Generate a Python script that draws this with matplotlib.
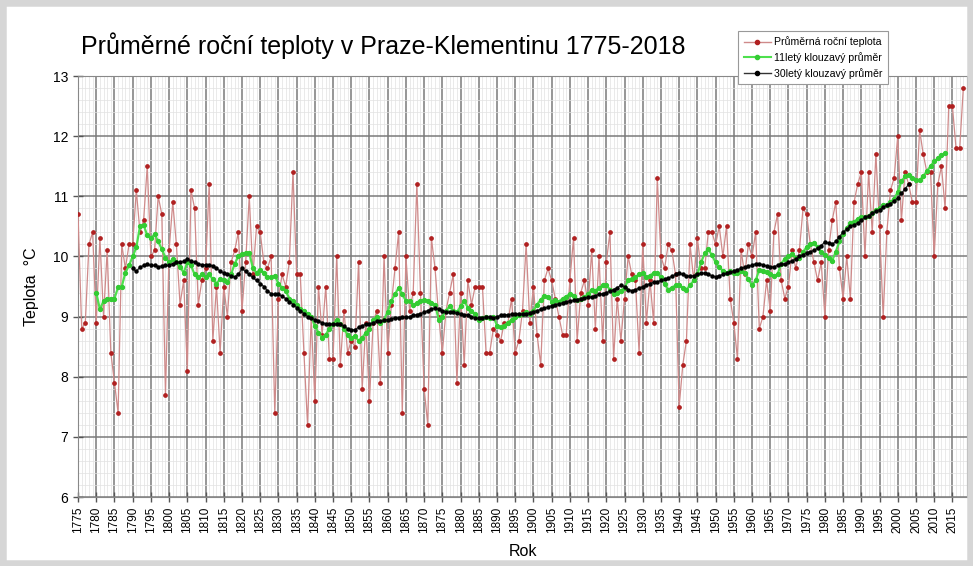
import numpy as np
import matplotlib
matplotlib.use("Agg")
import matplotlib.pyplot as plt
from matplotlib.lines import Line2D
from matplotlib.patches import Rectangle

plt.rcParams['font.family'] = ['Liberation Sans', 'DejaVu Sans']

# roční průměry 1775-2018
years = np.arange(1775, 2019)
temps = [
    10.7, 8.8, 8.9, 10.2, 10.4,                                   # 1775-1779
    8.9, 10.3, 9.0, 10.1, 8.4, 7.9, 7.4, 10.2, 9.8, 10.2,         # 1780s
    10.2, 11.1, 10.4, 10.6, 11.5, 10.0, 10.1, 11.0, 10.7, 7.7,    # 1790s
    10.1, 10.9, 10.2, 9.2, 9.6, 8.1, 11.1, 10.8, 9.2, 9.6,        # 1800s
    9.8, 11.2, 8.6, 9.5, 8.4, 9.5, 9.0, 9.9, 10.1, 10.4,          # 1810s
    9.1, 9.9, 11.0, 9.7, 10.5, 10.4, 9.9, 9.8, 10.0, 7.4,         # 1820s
    9.3, 9.7, 9.5, 9.9, 11.4, 9.7, 9.7, 8.4, 7.2, 9.0,            # 1830s
    7.6, 9.5, 8.7, 9.5, 8.3, 8.3, 10.0, 8.2, 9.1, 8.4,            # 1840s
    8.6, 8.5, 9.9, 7.8, 8.9, 7.6, 8.9, 9.1, 7.9, 10.0,            # 1850s
    8.4, 9.2, 9.8, 10.4, 7.4, 10.0, 9.1, 9.4, 11.2, 9.4,          # 1860s
    7.8, 7.2, 10.3, 9.8, 9.0, 8.4, 9.1, 9.4, 9.7, 7.9,            # 1870s
    9.4, 8.2, 9.6, 9.2, 9.5, 9.5, 9.5, 8.4, 8.4, 8.8,             # 1880s
    8.7, 8.6, 8.9, 8.9, 9.3, 8.4, 8.6, 9.1, 10.2, 8.9,            # 1890s
    9.5, 8.7, 8.2, 9.6, 9.8, 9.6, 9.3, 9.0, 8.7, 8.7,             # 1900s
    9.6, 10.3, 8.6, 9.4, 9.6, 9.2, 10.1, 8.8, 10.0, 8.6,          # 1910s
    9.9, 10.4, 8.3, 9.3, 8.6, 9.3, 10.0, 9.7, 9.6, 8.4,           # 1920s
    10.2, 8.9, 9.6, 8.9, 11.3, 10.0, 9.8, 10.2, 10.1, 9.7,        # 1930s
    7.5, 8.2, 8.6, 10.2, 9.6, 10.3, 9.8, 9.8, 10.4, 10.4,         # 1940s
    10.2, 10.5, 10.0, 10.5, 9.3, 8.9, 8.3, 10.1, 9.7, 10.2,       # 1950s
    10.0, 10.4, 8.8, 9.0, 9.6, 9.1, 10.4, 10.7, 9.6, 9.3,         # 1960s
    9.5, 10.1, 9.8, 10.1, 10.8, 10.7, 10.2, 9.9, 9.6, 9.9,        # 1970s
    9.0, 10.1, 10.6, 10.9, 9.8, 9.3, 10.0, 9.3, 10.9, 11.2,       # 1980s
    11.4, 10.0, 11.4, 10.4, 11.7, 10.5, 9.0, 10.4, 11.1, 11.3,    # 1990s
    12.0, 10.6, 11.4, 11.2, 10.9, 10.9, 12.1, 11.7, 11.4, 11.4,   # 2000s
    10.0, 11.2, 11.5, 10.8, 12.5, 12.5, 11.8, 11.8, 12.8,         # 2010-2018
]

# 11letý klouzavý průměr 1780-2013
years11 = np.arange(1780, 2014)
avg11 = [
    9.40, 9.12, 9.26, 9.30, 9.30, 9.30, 9.49, 9.50, 9.73, 9.85,
    10.00, 10.15, 10.50, 10.52, 10.35, 10.30, 10.37, 10.25, 10.12, 9.98,
    9.90, 9.95, 9.90, 9.82, 9.73, 9.90, 9.85, 9.70, 9.65, 9.70,
    9.65, 9.70, 9.62, 9.55, 9.62, 9.60, 9.57, 9.70, 9.88, 10.00,
    10.04, 10.06, 10.06, 9.80, 9.73, 9.78, 9.73, 9.65, 9.65, 9.68,
    9.55, 9.48, 9.43, 9.30, 9.26, 9.20, 9.13, 9.10, 9.05, 9.00,
    8.84, 8.73, 8.65, 8.70, 8.80, 8.87, 8.95, 8.87, 8.80, 8.70,
    8.65, 8.67, 8.60, 8.65, 8.73, 8.80, 8.95, 9.00, 8.90, 8.95,
    9.08, 9.26, 9.37, 9.48, 9.37, 9.26, 9.26, 9.20, 9.22, 9.26,
    9.28, 9.26, 9.23, 9.20, 8.95, 9.00, 9.10, 9.17, 9.10, 9.07,
    9.17, 9.26, 9.15, 9.10, 9.04, 8.95, 8.98, 9.00, 8.98, 9.00,
    8.85, 8.82, 8.85, 8.90, 8.95, 9.00, 9.02, 9.05, 9.07, 9.05,
    9.10, 9.20, 9.28, 9.35, 9.33, 9.25, 9.28, 9.25, 9.30, 9.33,
    9.38, 9.35, 9.28, 9.30, 9.33, 9.37, 9.45, 9.43, 9.48, 9.52,
    9.52, 9.45, 9.37, 9.40, 9.43, 9.48, 9.60, 9.62, 9.66, 9.70,
    9.72, 9.65, 9.68, 9.73, 9.72, 9.65, 9.54, 9.45, 9.48, 9.52,
    9.52, 9.48, 9.45, 9.52, 9.60, 9.70, 9.90, 10.05, 10.12, 10.02,
    9.90, 9.82, 9.76, 9.72, 9.76, 9.72, 9.73, 9.76, 9.72, 9.62,
    9.52, 9.60, 9.78, 9.75, 9.74, 9.70, 9.68, 9.70, 9.88, 9.96,
    10.00, 10.04, 9.98, 9.98, 10.07, 10.16, 10.20, 10.22, 10.15, 10.07,
    10.03, 9.98, 9.93, 10.08, 10.25, 10.38, 10.47, 10.55, 10.58, 10.62,
    10.65, 10.66, 10.68, 10.72, 10.77, 10.80, 10.85, 10.86, 10.90, 10.96,
    11.07, 11.25, 11.33, 11.36, 11.30, 11.27, 11.27, 11.33, 11.42, 11.50,
    11.58, 11.63, 11.68, 11.72,
]

# 30letý klouzavý průměr 1790-2003
years30 = np.arange(1790, 2004)
avg30 = [
    9.80, 9.75, 9.82, 9.85, 9.87, 9.85, 9.85, 9.83, 9.84, 9.85,
    9.85, 9.88, 9.90, 9.90, 9.92, 9.95, 9.93, 9.90, 9.88, 9.86,
    9.86, 9.86, 9.84, 9.80, 9.76, 9.72, 9.70, 9.68, 9.66, 9.70,
    9.80, 9.75, 9.70, 9.65, 9.60, 9.55, 9.50, 9.43, 9.38, 9.37,
    9.37, 9.34, 9.30, 9.25, 9.20, 9.15, 9.10, 9.05, 9.00, 8.97,
    8.95, 8.92, 8.90, 8.88, 8.87, 8.88, 8.88, 8.87, 8.84, 8.80,
    8.78, 8.78, 8.82, 8.85, 8.87, 8.88, 8.90, 8.92, 8.92, 8.94,
    8.95, 8.96, 8.98, 8.98, 9.00, 8.99, 9.00, 9.02, 9.03, 9.05,
    9.07, 9.10, 9.13, 9.14, 9.12, 9.10, 9.08, 9.07, 9.07, 9.06,
    9.04, 9.03, 9.03, 9.00, 8.98, 8.97, 8.98, 9.00, 9.00, 8.98,
    9.00, 9.02, 9.03, 9.03, 9.04, 9.05, 9.05, 9.04, 9.05, 9.06,
    9.08, 9.10, 9.12, 9.14, 9.16, 9.18, 9.20, 9.21, 9.23, 9.25,
    9.26, 9.27, 9.28, 9.30, 9.31, 9.32, 9.33, 9.35, 9.37, 9.38,
    9.40, 9.42, 9.45, 9.48, 9.52, 9.50, 9.45, 9.43, 9.45, 9.47,
    9.50, 9.52, 9.55, 9.57, 9.58, 9.60, 9.62, 9.64, 9.67, 9.70,
    9.72, 9.70, 9.68, 9.67, 9.68, 9.70, 9.72, 9.72, 9.70, 9.68,
    9.66, 9.68, 9.70, 9.72, 9.74, 9.75, 9.78, 9.80, 9.82, 9.84,
    9.85, 9.88, 9.88, 9.86, 9.84, 9.82, 9.83, 9.85, 9.87, 9.88,
    9.90, 9.93, 9.96, 10.00, 10.03, 10.06, 10.08, 10.10, 10.14, 10.18,
    10.24, 10.22, 10.20, 10.25, 10.33, 10.40, 10.45, 10.50, 10.53, 10.55,
    10.60, 10.65, 10.68, 10.72, 10.75, 10.78, 10.82, 10.85, 10.88, 10.92,
    10.97, 11.05, 11.12, 11.20,
]

assert len(temps) == len(years)
assert len(avg11) == len(years11)
assert len(avg30) == len(years30)

fig = plt.figure(figsize=(9.73, 5.66), dpi=100)
# šedý rámeček kolem obrázku
fig.patches.append(Rectangle((0, 0), 1, 1, transform=fig.transFigure,
                             fill=False, edgecolor='#d6d6d6', linewidth=9))

ax = fig.add_axes([0.0802, 0.1219, 0.9136, 0.7438])

ax.plot(years, temps, color='#cf8a8a', lw=0.9, marker='o', ms=2.4,
        mfc='#b02020', mec='#b02020', zorder=3)
ax.plot(years11, avg11, color='#4ee04e', lw=1.6, marker='o', ms=2.8,
        mfc='#33cc33', mec='#33cc33', zorder=4)
ax.plot(years30, avg30, color='#333333', lw=1.0, marker='o', ms=2.2,
        mfc='black', mec='black', zorder=5)

ax.set_xlim(1775, 2019)
ax.set_ylim(6, 13)
ax.set_xticks(np.arange(1775, 2016, 5))
ax.set_xticks(np.arange(1775, 2019, 1), minor=True)
ax.set_yticks(np.arange(6, 14, 1))
ax.set_yticks(np.arange(6, 13.01, 0.2), minor=True)
ax.tick_params(axis='x', which='major', labelrotation=90, labelsize=8.5,
               direction='inout', length=7, width=1, color='#555555')
ax.tick_params(axis='y', which='major', labelsize=10,
               direction='inout', length=7, width=1, color='#555555')
ax.tick_params(which='minor', length=0)

ax.grid(which='major', color='#7a7a7a', lw=1.1)
ax.grid(which='minor', color='#e2e2e2', lw=0.5)
ax.set_axisbelow(True)
for s in ax.spines.values():
    s.set_color('#888888')

ax.set_xlabel('Rok', fontsize=11.5, labelpad=8)
ax.set_ylabel('Teplota  °C', fontsize=11.5, labelpad=10)

fig.text(0.083, 0.92, 'Průměrné roční teploty v Praze-Klementinu 1775-2018',
         fontsize=18, ha='left', va='center')

handles = [
    Line2D([], [], color='#cf8a8a', lw=1.0, marker='o', ms=3,
           mfc='#b02020', mec='#b02020'),
    Line2D([], [], color='#4ee04e', lw=1.5, marker='o', ms=3,
           mfc='#33cc33', mec='#33cc33'),
    Line2D([], [], color='#333333', lw=1.0, marker='o', ms=3,
           mfc='black', mec='black'),
]
labels = ['Průměrná roční teplota', '11letý klouzavý průměr',
          '30letý klouzavý průměr']
leg = fig.legend(handles, labels, loc='upper left',
                 bbox_to_anchor=(733 / 973, 1 - 26 / 566),
                 fontsize=7.6, frameon=True, fancybox=False,
                 edgecolor='#999999', framealpha=1, handlelength=2.6,
                 borderpad=0.5, labelspacing=0.45, handletextpad=0.3)
leg.get_frame().set_linewidth(0.8)
leg.set_zorder(10)

fig.savefig('out.png', dpi=100)
